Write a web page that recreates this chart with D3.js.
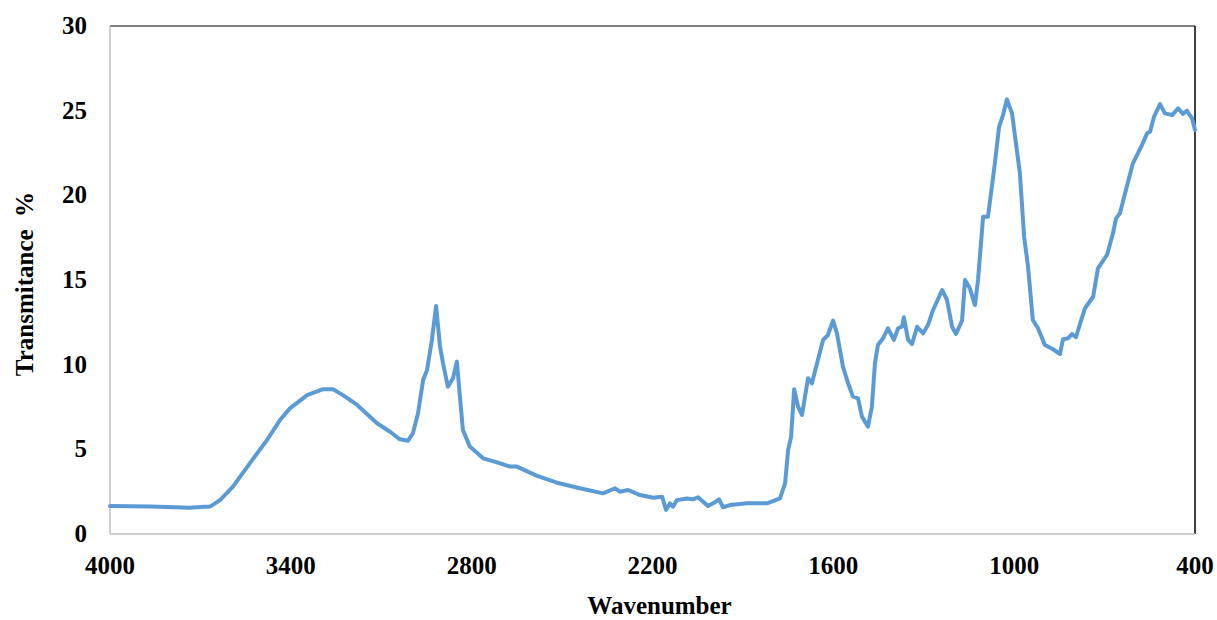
<!DOCTYPE html>
<html lang="en">
<head>
<meta charset="UTF-8">
<title>FTIR spectrum</title>
<style>
  body { margin: 0; background: #fff; }
  svg text { font-family: "Liberation Serif", Tinos, "Times New Roman", Times, "DejaVu Serif", serif; font-weight: bold; fill: #000; }
</style>
</head>
<body>
<script src="https://d3js.org/d3.v7.min.js"></script>
<script>
// wavenumber (cm-1), left to right
const wavenumbers = [4000, 3867, 3735, 3701, 3668, 3635, 3592, 3535, 3479, 3436, 3403, 3346, 3293, 3260, 3227, 3180,
  3114, 3071, 3038, 3011, 2995, 2978, 2961, 2948, 2932, 2918, 2905, 2895, 2879, 2862, 2849, 2839, 2829, 2806,
  2762, 2716, 2673, 2650, 2583, 2517, 2441, 2364, 2324, 2308, 2281, 2241, 2198, 2168, 2155, 2142, 2132, 2119,
  2086, 2066, 2049, 2032, 2016, 1999, 1979, 1966, 1943, 1886, 1820, 1777, 1760, 1750, 1740, 1730, 1717, 1704,
  1684, 1671, 1654, 1634, 1618, 1601, 1588, 1568, 1551, 1535, 1518, 1505, 1485, 1472, 1462, 1452, 1435, 1419,
  1399, 1385, 1372, 1366, 1352, 1339, 1322, 1302, 1286, 1269, 1239, 1223, 1206, 1193, 1173, 1163, 1147, 1130,
  1120, 1103, 1087, 1074, 1064, 1050, 1037, 1024, 1007, 997, 981, 967, 954, 938, 921, 898, 871, 848, 838, 821,
  808, 795, 781, 765, 738, 722, 692, 672, 662, 649, 632, 606, 576, 559, 549, 536, 516, 500, 476, 456, 440, 427,
  410, 400]

// transmittance %
const transmittance = [1.65, 1.62, 1.55, 1.6, 1.62, 2.0, 2.8, 4.2, 5.55, 6.73, 7.42, 8.2, 8.55, 8.55, 8.2, 7.62,
  6.54, 6.04, 5.59, 5.51, 5.95, 7.13, 9.1, 9.69, 11.46, 13.47, 11.06, 10.08, 8.7, 9.2, 10.18, 8.11, 6.14, 5.16,
  4.47, 4.23, 3.98, 3.98, 3.43, 3.03, 2.7, 2.4, 2.7, 2.5, 2.6, 2.3, 2.14, 2.2, 1.42, 1.81, 1.61, 2.0,
  2.1, 2.05, 2.17, 1.91, 1.65, 1.81, 2.05, 1.58, 1.71, 1.81, 1.81, 2.1, 3.0, 4.96, 5.75, 8.55, 7.52, 7.03,
  9.2, 8.9, 10.08, 11.46, 11.75, 12.6, 11.85, 9.88, 8.9, 8.11, 8.01, 6.93, 6.34, 7.52, 10.08, 11.16, 11.56, 12.15,
  11.46, 12.15, 12.24, 12.8, 11.46, 11.22, 12.24, 11.85, 12.34, 13.23, 14.41, 13.82, 12.24, 11.81, 12.6, 15.0, 14.51, 13.52,
  15.0, 18.74, 18.74, 20.51, 21.89, 24.05, 24.74, 25.67, 24.84, 23.46, 21.3, 17.56, 15.79, 12.64, 12.15, 11.16, 10.91, 10.63, 11.5, 11.56,
  11.81, 11.62, 12.44, 13.33, 14.01, 15.69, 16.48, 17.76, 18.64, 18.94, 20.12, 21.89, 22.97, 23.66, 23.76, 24.64, 25.39, 24.84, 24.74, 25.14, 24.8, 25.0,
  24.55, 23.86]

const xTicks = [4000, 3400, 2800, 2200, 1600, 1000, 400]
const yTicks = [0, 5, 10, 15, 20, 25, 30]

const width = 1217, height = 620
const margin = { top: 26, right: 22, bottom: 86, left: 110 }

const svg = d3.select('body').append('svg')
  .attr('width', width)
  .attr('height', height)

const x = d3.scaleLinear().domain([4000, 400]).range([margin.left, width - margin.right])
const y = d3.scaleLinear().domain([0, 30]).range([height - margin.bottom, margin.top])

const x0 = x.range()[0], x1 = x.range()[1]
const y0 = y.range()[0], y1 = y.range()[1]

// frame: light grey axes, darker top/right edges
svg.append('line').attr('x1', x0).attr('x2', x1).attr('y1', y1).attr('y2', y1)
  .attr('stroke', '#595959').attr('stroke-width', 1.5)
svg.append('line').attr('x1', x1).attr('x2', x1).attr('y1', y1).attr('y2', y0)
  .attr('stroke', '#000').attr('stroke-width', 1.5)
svg.append('line').attr('x1', x0).attr('x2', x0).attr('y1', y1).attr('y2', y0)
  .attr('stroke', '#bfbfbf').attr('stroke-width', 1.5)
svg.append('line').attr('x1', x0).attr('x2', x1).attr('y1', y0).attr('y2', y0)
  .attr('stroke', '#bfbfbf').attr('stroke-width', 1.5)

// tick labels
svg.append('g').selectAll('text')
  .data(yTicks)
  .enter()
  .append('text')
  .attr('x', x0 - 23)
  .attr('y', d => y(d) + 8)
  .attr('text-anchor', 'end')
  .style('font-size', '25px')
  .text(d => d)

svg.append('g').selectAll('text')
  .data(xTicks)
  .enter()
  .append('text')
  .attr('x', d => x(d))
  .attr('y', y0 + 40)
  .attr('text-anchor', 'middle')
  .style('font-size', '25px')
  .text(d => d)

// spectrum
const line = d3.line()
  .x(d => x(d[0]))
  .y(d => y(d[1]))

svg.append('path')
  .datum(wavenumbers.map((w, i) => [w, transmittance[i]]))
  .attr('d', line)
  .attr('fill', 'none')
  .attr('stroke', '#5b9bd5')
  .attr('stroke-width', 4)
  .attr('stroke-linejoin', 'round')
  .attr('stroke-linecap', 'round')

// axis titles
svg.append('text')
  .attr('x', (x0 + x1) / 2 + 7)
  .attr('y', 614)
  .attr('text-anchor', 'middle')
  .style('font-size', '25px')
  .text('Wavenumber')

svg.append('text')
  .attr('transform', `translate(33, ${(y0 + y1) / 2 + 4}) rotate(-90)`)
  .attr('text-anchor', 'middle')
  .style('font-size', '25px')
  .style('white-space', 'pre')
  .text('Transmitance  %')
</script>
</body>
</html>
